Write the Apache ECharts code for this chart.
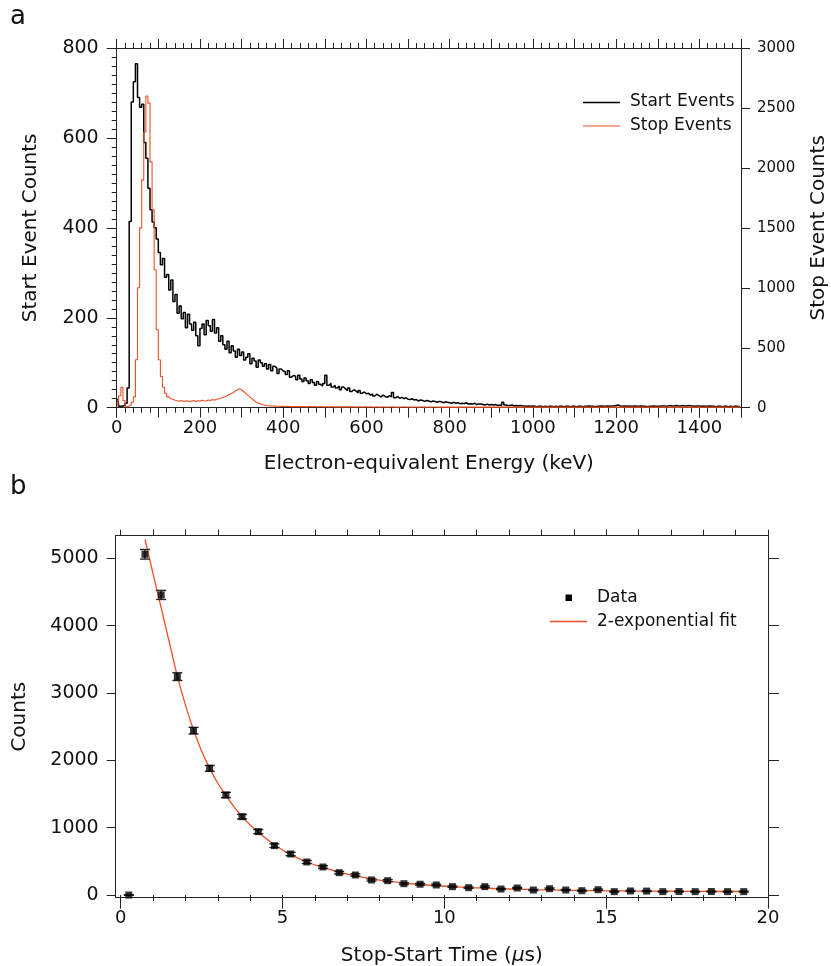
<!DOCTYPE html>
<html><head><meta charset="utf-8">
<script src="https://cdn.jsdelivr.net/npm/echarts@6/dist/echarts.min.js"></script>
<style>html,body{margin:0;padding:0;background:#fff}#c{width:831px;height:966px}</style>
</head><body><div id="c"></div>
<script>
// ---------- Panel a: energy histograms (5 keV bins, bin i covers [5i, 5i+5)) ----------
const binWidth = 5;
const startCounts = [
 20,3,4,5,10,44,414,680,725,765,690,668,675,590,555,488,440,413,400,375,
 345,318,332,290,296,262,284,236,252,210,226,198,212,178,208,186,172,190,160,138,
 176,186,162,194,182,170,196,166,178,148,160,140,130,148,122,138,126,112,130,116,
 124,106,112,120,98,110,104,90,106,100,92,98,86,96,82,92,88,76,86,82,
 80,74,82,68,72,70,62,72,64,58,66,60,54,62,56,50,58,52,48,54,
 72,50,54,46,50,44,48,40,46,42,38,44,36,40,37,33,38,32,35,31,
 32,28,31,26,30,27,24,28,25,23,27,24,34,22,25,21,23,20,22,19,
 18,20,17,18,15,17,16,14,16,15,13,15,14,12,14,13,11,13,12,11,
 10,12,10,11,9,10,9,11,8,9,8,10,7,8,8,7,6,8,6,7,
 6,7,5,6,5,12,6,5,5,6,4,5,4,5,4,4,3,4,3,4,
 3,2,3,3,2,3,2,3,3,2,3,2,3,3,2,3,3,2,3,3,
 2,3,3,2,3,3,4,3,3,2,3,3,4,3,3,4,3,4,4,5,
 6,4,3,4,3,4,3,3,4,3,3,4,3,3,2,3,3,4,3,3,
 3,4,4,3,4,5,4,4,5,4,4,5,4,4,5,4,4,3,4,4,
 3,4,3,3,4,3,3,2,3,3,2,3,3,2,3,2,3,3,2,3
];
const stopCounts = [
 10,100,170,60,8,15,25,45,90,400,1000,1500,1900,2300,2600,2540,2050,1650,1150,650,
 400,260,170,120,90,75,70,62,58,55,60,52,55,58,50,55,60,52,58,55,
 62,58,55,65,60,68,62,70,72,78,85,92,100,110,118,125,140,150,158,150,
 135,120,105,90,75,60,48,40,32,26,22,18,16,15,14,13,12,12,11,11,
 10,11,10,9,10,9,10,9,9,10,8,9,9,8,9,8,8,9,8,8,
 8,7,8,8,7,8,7,7,8,7,7,8,7,7,6,7,7,6,7,7,
 6,7,6,6,7,6,6,7,6,6,6,7,6,6,5,6,6,7,6,6,
 6,5,6,6,5,6,6,5,6,6,5,6,6,5,5,6,5,6,5,5,
 5,6,5,5,6,5,5,6,5,5,6,5,5,5,6,5,5,6,5,5,
 5,5,6,5,5,5,6,5,5,5,5,6,5,5,5,5,6,5,5,5,
 5,5,5,6,5,5,5,5,6,5,5,5,5,6,5,5,5,5,5,6,
 5,5,5,5,6,5,5,5,5,5,6,5,5,5,5,5,6,5,5,5,
 5,6,5,5,5,5,5,6,5,5,5,5,5,6,5,5,5,5,5,5,
 6,5,5,5,5,5,6,5,5,5,5,5,5,6,5,5,5,5,5,5,
 5,6,5,5,5,5,5,5,6,5,5,5,5,5,5,5,6,5,5,5
];
const energyLabels = [0,200,400,600,800,1000,1200,1400];

// ---------- Panel b: stop-start time distribution ----------
const times = [0.25,0.75,1.25,1.75,2.25,2.75,3.25,3.75,4.25,4.75,5.25,5.75,6.25,6.75,7.25,7.75,8.25,8.75,9.25,9.75,
 10.25,10.75,11.25,11.75,12.25,12.75,13.25,13.75,14.25,14.75,15.25,15.75,16.25,16.75,17.25,17.75,18.25,18.75,19.25];
const counts = [0,5060,4456,3243,2441,1881,1485,1163,941,733,609,490,416,332,297,223,213,168,160,149,
 124,109,124,89,104,74,94,74,64,79,50,60,58,50,52,50,52,50,50];
const countErrors = [5,71,67,57,49,43,39,34,31,27,25,22,20,18,17,15,15,13,13,12,
 11,10,11,9,10,9,10,9,8,9,7,8,8,7,7,7,7,7,7];
const fitTimes = [0.75,1.0,1.25,1.5,1.75,2.0,2.25,2.5,2.75,3.0,3.25,3.5,3.75,4.0,4.25,4.5,4.75,5.25,5.75,6.25,6.75,
 7.25,7.75,8.25,8.75,9.25,9.75,10.25,10.75,11.25,11.75,12.25,12.75,13.25,13.75,14.25,14.75,15.25,15.75,16.25,16.75,
 17.25,17.75,18.25,18.75,19.25];
const fitCounts = [5280,4770,4265,3755,3250,2820,2450,2140,1880,1660,1480,1310,1165,1040,935,835,745,600,490,410,340,
 285,240,205,178,156,138,123,111,101,93,86,80,75,71,67,64,61,59,57,56,55,54,53,52,52];
const timeLabels = [0,5,10,15,20];
const timeMinorTicks = [0,1,2,3,4,5,6,7,8,9,10,11,12,13,14,15,16,17,18,19,20];
const countLabels = [0,1000,2000,3000,4000,5000];

const FONT = 'DejaVu Sans';
const ORANGE = '#ef4f23';
const AX = {lineStyle:{color:'#222', width:1}};
const plain = v => String(v);

const startData = startCounts.map((v,i)=>[i*binWidth + binWidth/2, v]);
const stopData = stopCounts.map((v,i)=>[i*binWidth + binWidth/2, v]);

const chart = echarts.init(document.getElementById('c'), null, {renderer:'canvas'});

const G0 = {left:116.7, top:48, width:624.3, height:359.7};
const G1 = {left:115.7, top:535.7, width:652.3, height:362};

function baseAxis(extra){
  return Object.assign({
    splitLine:{show:false},
    axisLine:Object.assign({show:true, onZero:false}, AX),
    axisTick:{show:true, inside:false, length:10, lineStyle:{color:'#222'}},
    axisLabel:{color:'#111', fontFamily:FONT, fontSize:18, formatter:plain},
    nameTextStyle:{color:'#111', fontFamily:FONT, fontSize:20},
  }, extra);
}

const option = {
  animation:false,
  backgroundColor:'#fff',
  grid:[
    Object.assign({containLabel:false, outerBoundsMode:'none'}, G0),
    Object.assign({containLabel:false, outerBoundsMode:'none'}, G1)
  ],
  xAxis:[
    baseAxis({type:'value', gridIndex:0, position:'bottom', min:0, max:1500, interval:100,
      minorTick:{show:true, splitNumber:5, length:5, lineStyle:{color:'#222'}},
      axisLabel:{color:'#111', fontFamily:FONT, fontSize:18, margin:12,
        formatter:v=> energyLabels.indexOf(v)>=0 ? String(v) : ''},
      name:'Electron-equivalent Energy (keV)', nameLocation:'middle', nameGap:46,
      nameTextStyle:{color:'#111', fontFamily:FONT, fontSize:20}}),
    baseAxis({type:'value', gridIndex:0, position:'top', min:0, max:1500, interval:100,
      minorTick:{show:true, splitNumber:5, length:5, lineStyle:{color:'#222'}},
      axisTick:{show:true, inside:false, length:9, lineStyle:{color:'#222'}},
      axisLabel:{show:false}}),
    baseAxis({type:'value', gridIndex:1, position:'bottom', min:-0.155, max:20,
      axisTick:{show:true, inside:false, length:11, customValues:timeLabels, lineStyle:{color:'#222'}},
      axisLabel:{color:'#111', fontFamily:FONT, fontSize:18, margin:12, customValues:timeLabels, formatter:plain},
      name:'Stop-Start Time ({i|μ}s)', nameLocation:'middle', nameGap:48,
      nameTextStyle:{color:'#111', fontFamily:FONT, fontSize:20,
        rich:{i:{fontFamily:FONT, fontSize:20, fontStyle:'italic', color:'#111'}}}}),
    baseAxis({type:'value', gridIndex:1, position:'bottom', min:-0.155, max:20,
      axisLine:{show:false},
      axisTick:{show:true, inside:false, length:6, customValues:timeMinorTicks, lineStyle:{color:'#222'}},
      axisLabel:{show:false}}),
    baseAxis({type:'value', gridIndex:1, position:'top', min:-0.155, max:20,
      axisTick:{show:true, inside:false, length:6, customValues:timeMinorTicks, lineStyle:{color:'#222'}},
      axisLabel:{show:false}})
  ],
  yAxis:[
    baseAxis({type:'value', gridIndex:0, position:'left', min:0, max:800, interval:200,
      minorTick:{show:true, splitNumber:10, length:5, lineStyle:{color:'#222'}},
      axisLabel:{color:'#111', fontFamily:FONT, fontSize:19, margin:18, formatter:plain},
      name:'Start Event Counts', nameLocation:'middle', nameGap:76, nameRotate:90,
      nameTextStyle:{color:'#111', fontFamily:FONT, fontSize:20}}),
    baseAxis({type:'value', gridIndex:0, position:'right', min:0, max:3000, interval:500,
      axisTick:{show:true, inside:false, length:9, lineStyle:{color:'#222'}},
      axisLabel:{color:'#111', fontFamily:FONT, fontSize:15, margin:16, formatter:plain},
      name:'Stop Event Counts', nameLocation:'middle', nameGap:68, nameRotate:90,
      nameTextStyle:{color:'#111', fontFamily:FONT, fontSize:20}}),
    baseAxis({type:'value', gridIndex:1, position:'left', min:-40, max:5336,
      axisTick:{show:true, inside:false, length:9, customValues:countLabels, lineStyle:{color:'#222'}},
      axisLabel:{color:'#111', fontFamily:FONT, fontSize:19, margin:17, customValues:countLabels, formatter:plain},
      name:'Counts', nameLocation:'middle', nameGap:86, nameRotate:90,
      nameTextStyle:{color:'#111', fontFamily:FONT, fontSize:20}}),
    baseAxis({type:'value', gridIndex:1, position:'right', min:-40, max:5336,
      axisTick:{show:true, inside:false, length:11, customValues:countLabels, lineStyle:{color:'#222'}},
      axisLabel:{show:false}})
  ],
  series:[
    {type:'line', name:'Start Events', xAxisIndex:0, yAxisIndex:0, step:'middle', showSymbol:false, symbol:'none',
      data:startData, lineStyle:{color:'#000', width:1.5}, z:2},
    {type:'line', name:'Stop Events', xAxisIndex:0, yAxisIndex:1, step:'middle', showSymbol:false, symbol:'none',
      data:stopData, lineStyle:{color:ORANGE, width:1.1}, z:3},
    {type:'line', name:'2-exponential fit', xAxisIndex:2, yAxisIndex:2, smooth:0.4, showSymbol:false, symbol:'none',
      data:fitTimes.map((t,i)=>[t, fitCounts[i]]), lineStyle:{color:ORANGE, width:1.3}, z:2},
    {type:'custom', name:'errors', xAxisIndex:2, yAxisIndex:2, z:3,
      data:times.map((t,i)=>[t, counts[i], countErrors[i]]),
      renderItem:function(params, api){
        const x = api.value(0), y = api.value(1), e = api.value(2);
        const top = api.coord([x, y+e]), bot = api.coord([x, y-e]);
        const hw = 5;
        const st = {stroke:'#222', lineWidth:1.4};
        return {type:'group', children:[
          {type:'line', shape:{x1:top[0], y1:top[1], x2:bot[0], y2:bot[1]}, style:st},
          {type:'line', shape:{x1:top[0]-hw, y1:top[1], x2:top[0]+hw, y2:top[1]}, style:st},
          {type:'line', shape:{x1:bot[0]-hw, y1:bot[1], x2:bot[0]+hw, y2:bot[1]}, style:st}
        ]};
      }},
    {type:'scatter', name:'Data', xAxisIndex:2, yAxisIndex:2, symbol:'rect', symbolSize:7,
      itemStyle:{color:'#000'}, data:times.map((t,i)=>[t, counts[i]]), z:4}
  ],
  graphic:[
    {type:'text', left:10, top:4, style:{text:'a', fontFamily:FONT, fontSize:26, fill:'#111'}},
    {type:'text', left:10, top:474, style:{text:'b', fontFamily:FONT, fontSize:26, fill:'#111'}},
    {type:'line', shape:{x1:583, y1:102.5, x2:620, y2:102.5}, style:{stroke:'#000', lineWidth:1.4}},
    {type:'text', x:630, y:102, style:{text:'Start Events', fontFamily:FONT, fontSize:17, fill:'#111', verticalAlign:'middle'}},
    {type:'line', shape:{x1:583, y1:126, x2:620, y2:126}, style:{stroke:ORANGE, lineWidth:1.1}},
    {type:'text', x:630, y:125.5, style:{text:'Stop Events', fontFamily:FONT, fontSize:17, fill:'#111', verticalAlign:'middle'}},
    {type:'rect', shape:{x:565.5, y:594.5, width:6.5, height:6.5}, style:{fill:'#000'}},
    {type:'text', x:597, y:597.5, style:{text:'Data', fontFamily:FONT, fontSize:17, fill:'#111', verticalAlign:'middle'}},
    {type:'line', shape:{x1:550, y1:621.5, x2:587, y2:621.5}, style:{stroke:ORANGE, lineWidth:1.3}},
    {type:'text', x:597, y:621.5, style:{text:'2-exponential fit', fontFamily:FONT, fontSize:17, fill:'#111', verticalAlign:'middle'}}
  ]
};
chart.setOption(option);
</script>
</body></html>
